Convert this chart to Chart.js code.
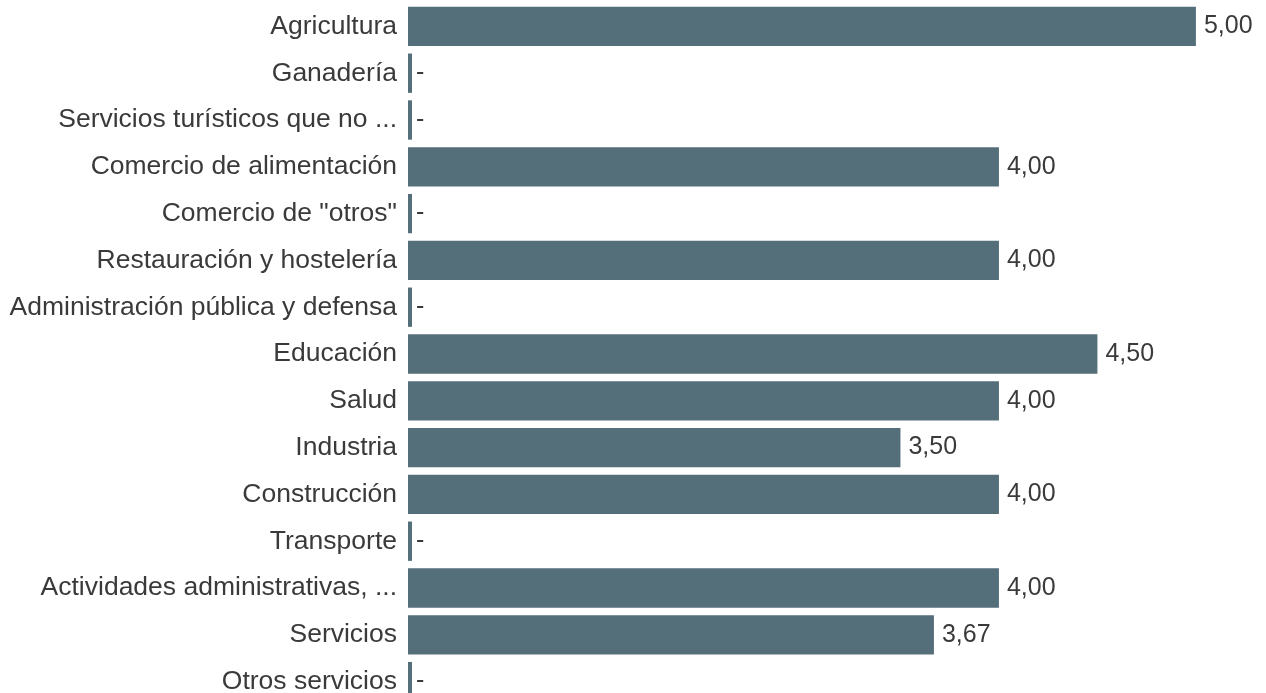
<!DOCTYPE html>
<html>
<head>
<meta charset="utf-8">
<script src="https://cdn.jsdelivr.net/npm/chart.js@4"></script>
<style>
  html, body { margin: 0; padding: 0; background: #fff; overflow: hidden; }
  #wrap { width: 1266px; height: 705px; }
</style>
</head>
<body>
<div id="wrap"><canvas id="myChart"></canvas></div>
<script>
const sectors = [
  "Agricultura",
  "Ganadería",
  "Servicios turísticos que no ...",
  "Comercio de alimentación",
  "Comercio de \"otros\"",
  "Restauración y hostelería",
  "Administración pública y defensa",
  "Educación",
  "Salud",
  "Industria",
  "Construcción",
  "Transporte",
  "Actividades administrativas, ...",
  "Servicios",
  "Otros servicios"
];
const scores = [5, 0, 0, 4, 0, 4, 0, 4.5, 4, 3.5, 4, 0, 4, 3.67, 0];

const textColor = "#3a3a3a";
const barColor = "#546e7a";

// labels at the end of each bar, "-" when there is no value
const valueLabels = {
  id: "valueLabels",
  afterDatasetsDraw(chart) {
    const ctx = chart.ctx;
    const meta = chart.getDatasetMeta(0);
    const xScale = chart.scales.x;
    ctx.save();
    ctx.font = "25px 'Liberation Sans', Arial, sans-serif";
    ctx.fillStyle = textColor;
    ctx.textAlign = "left";
    ctx.textBaseline = "middle";
    meta.data.forEach((bar, i) => {
      const v = scores[i];
      const txt = v === 0 ? "-" : v.toFixed(2).replace(".", ",");
      const x = Math.max(xScale.getPixelForValue(v), chart.chartArea.left) + 8;
      ctx.fillText(txt, x, bar.y);
    });
    ctx.restore();
  }
};

const ctx = document.getElementById("myChart").getContext("2d");
new Chart(ctx, {
  type: "bar",
  data: {
    labels: sectors,
    datasets: [{
      data: scores,
      backgroundColor: barColor,
      borderWidth: 0,
      minBarLength: 4,
      barPercentage: 0.84,
      categoryPercentage: 1
    }]
  },
  options: {
    indexAxis: "y",
    responsive: true,
    maintainAspectRatio: false,
    animation: false,
    layout: { padding: { top: 3, right: 11, bottom: 0, left: 0 } },
    plugins: {
      legend: { display: false },
      tooltip: { enabled: false }
    },
    scales: {
      x: {
        min: 1,
        max: 5.3,
        display: false,
        grid: { display: false }
      },
      y: {
        grid: { display: false, drawTicks: false },
        border: { display: false },
        ticks: {
          padding: 11,
          color: textColor,
          font: { family: "'Liberation Sans', Arial, sans-serif", size: 26.5 }
        },
        afterFit(scale) {
          scale.width = 408;
          scale.paddingTop = 0;
          scale.paddingBottom = 0;
        }
      }
    }
  },
  plugins: [valueLabels]
});
</script>
</body>
</html>
